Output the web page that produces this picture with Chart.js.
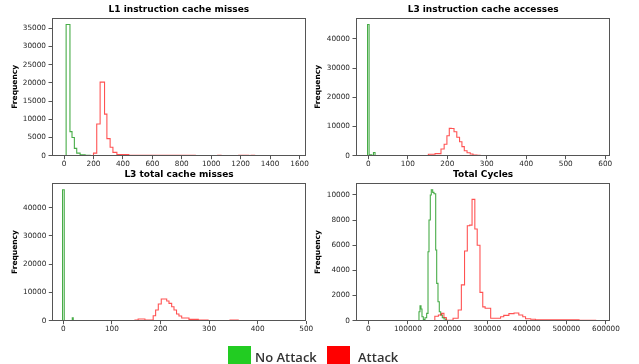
<!DOCTYPE html>
<html><head><meta charset="utf-8">
<script src="https://cdn.jsdelivr.net/npm/chart.js@4.4.1/dist/chart.umd.min.js"></script>
<style>
html,body{margin:0;padding:0;background:#fff;width:639px;height:364px;overflow:hidden;}
canvas{position:absolute;left:0;top:0;}
.leg{position:absolute;font-family:"Open Sans",sans-serif;font-weight:600;font-size:13px;color:#333;line-height:18px;white-space:nowrap;}
.box{position:absolute;}
</style></head><body>
<canvas id="c0" width="639" height="364"></canvas>
<canvas id="c1" width="639" height="364"></canvas>
<canvas id="c2" width="639" height="364"></canvas>
<canvas id="c3" width="639" height="364"></canvas>
<div class="box" style="left:228px;top:346px;width:23px;height:20px;background:#22cc22"></div>
<div class="leg" id="lg0" style="left:255px;top:348px;"></div>
<div class="box" style="left:327px;top:346px;width:23px;height:20px;background:#ff0000"></div>
<div class="leg" id="lg1" style="left:358px;top:348px;"></div>
<script>
// ---- text ----
const panelTitles = ["L1 instruction cache misses", "L3 instruction cache accesses", "L3 total cache misses", "Total Cycles"];
const yAxisLabel = "Frequency";
const seriesNames = ["No Attack", "Attack"];

// ---- L1 instruction cache misses (histogram bin edges / counts) ----
const l1NoAttackEdges = [14, 40, 54, 70, 86, 109, 143, 177];
const l1NoAttackCounts = [36000, 6600, 5000, 2000, 700, 250, 80];
const l1AttackEdges = [200, 222, 245, 275, 291, 313, 332, 359, 440, 653, 892, 1044, 1067, 1187, 1255, 1271, 1295];
const l1AttackCounts = [700, 8700, 20200, 11400, 4700, 2300, 900, 300, 80, 100, 0, 100, 0, 100, 0, 100];
const l1XTicks = [0, 200, 400, 600, 800, 1000, 1200, 1400, 1600];
const l1YTicks = [0, 5000, 10000, 15000, 20000, 25000, 30000, 35000];

// ---- L3 instruction cache accesses ----
const l3iNoAttackEdges = [-2, 2, 8, 13, 17];
const l3iNoAttackCounts = [44900, 300, 100, 1100];
const l3iAttackEdges = [152, 169, 184, 192, 199, 205, 210, 217, 224, 231, 237, 243, 250, 258, 265, 275, 283, 351, 359, 490];
const l3iAttackCounts = [500, 700, 2300, 3900, 6850, 9360, 9300, 8200, 6300, 4800, 3100, 1700, 1000, 560, 200, 100, 60, 0, 60];
const l3iXTicks = [0, 100, 200, 300, 400, 500, 600];
const l3iYTicks = [0, 10000, 20000, 30000, 40000];

// ---- L3 total cache misses ----
const l3tNoAttackEdges = [-1.5, 2, 18.5, 20.5];
const l3tNoAttackCounts = [46300, 0, 1000];
const l3tAttackEdges = [147.5, 154, 168, 185, 190, 195.5, 201.6, 212.8, 217.5, 223, 227.8, 233, 238, 243.6, 258.6, 277.8, 298, 343, 360, 480];
const l3tAttackCounts = [200, 600, 200, 1770, 3780, 5900, 7670, 6960, 6140, 4960, 3780, 2360, 1650, 960, 470, 200, 60, 200, 60];
const l3tXTicks = [0, 100, 200, 300, 400, 500];
const l3tYTicks = [0, 10000, 20000, 30000, 40000];

// ---- Total Cycles ----
const cyclesNoAttackEdges = [128000, 130600, 133100, 135600, 139000, 143200, 147400, 150800, 153300, 156600, 159100, 162600, 165900, 170200, 172700, 176000, 179300, 182800, 186900, 191200, 196200];
const cyclesNoAttackCounts = [716, 1190, 930, 320, 100, 240, 580, 5490, 8010, 10000, 10420, 10210, 10100, 5620, 2970, 1510, 716, 450, 240, 130];
const cyclesAttackEdges = [168000, 177000, 185000, 191000, 197000, 214000, 227000, 235000, 243000, 250000, 256000, 262000, 269000, 275000, 282000, 289000, 295000, 309000, 334000, 342000, 355000, 368000, 380000, 390000, 397000, 410000, 422000, 532000, 574000];
const cyclesAttackCounts = [350, 450, 580, 250, 40, 200, 850, 2850, 5550, 7550, 7600, 9650, 7300, 6000, 2250, 1100, 990, 190, 320, 420, 560, 610, 450, 320, 160, 120, 80, 40];
const cyclesXTicks = [0, 100000, 200000, 300000, 400000, 500000, 600000];
const cyclesYTicks = [0, 2000, 4000, 6000, 8000, 10000];

document.getElementById('lg0').textContent = seriesNames[0];
document.getElementById('lg1').textContent = seriesNames[1];

const GREEN = 'rgba(0,140,0,0.72)';
const RED = 'rgba(255,0,0,0.68)';
const FONT = 'DejaVu Sans';
const W = 639, H = 364;

function stepPoints(edges, counts) {
  const pts = [{x: edges[0], y: 0}];
  for (let i = 0; i < counts.length; i++) pts.push({x: edges[i], y: counts[i]});
  pts.push({x: edges[edges.length - 1], y: 0});
  return pts;
}

const panels = [
  {id: 'c0', title: panelTitles[0], area: {l: 52, t: 18, r: 305.7, b: 155.7}, ylabX: 15,
   xMin: -82, xMax: 1642, yMax: 37800, xTicks: l1XTicks, yTicks: l1YTicks,
   g: [l1NoAttackEdges, l1NoAttackCounts], r: [l1AttackEdges, l1AttackCounts]},
  {id: 'c1', title: panelTitles[1], area: {l: 356, t: 18, r: 610.3, b: 155.7}, ylabX: 318,
   xMin: -31.2, xMax: 612.7, yMax: 47150, xTicks: l3iXTicks, yTicks: l3iYTicks,
   g: [l3iNoAttackEdges, l3iNoAttackCounts], r: [l3iAttackEdges, l3iAttackCounts]},
  {id: 'c2', title: panelTitles[2], area: {l: 52.3, t: 183.3, r: 305.7, b: 320.7}, ylabX: 15,
   xMin: -22.6, xMax: 498.8, yMax: 48600, xTicks: l3tXTicks, yTicks: l3tYTicks,
   g: [l3tNoAttackEdges, l3tNoAttackCounts], r: [l3tAttackEdges, l3tAttackCounts]},
  {id: 'c3', title: panelTitles[3], area: {l: 356, t: 183.3, r: 610.3, b: 320.7}, ylabX: 318,
   xMin: -31000, xMax: 611000, yMax: 10930, xTicks: cyclesXTicks, yTicks: cyclesYTicks,
   g: [cyclesNoAttackEdges, cyclesNoAttackCounts], r: [cyclesAttackEdges, cyclesAttackCounts]}
];

const framePlugin = {
  id: 'frame',
  afterDatasetsDraw(chart) {
    const a = chart.chartArea, ctx = chart.ctx;
    ctx.save();
    ctx.strokeStyle = '#555';
    ctx.lineWidth = 1;
    const l = Math.round(a.left) + 0.5, t = Math.round(a.top) + 0.5;
    const r = Math.round(a.right) - 0.5, b = Math.round(a.bottom) - 0.5;
    ctx.strokeRect(l, t, r - l, b - t);
    ctx.restore();
  },
  afterDraw(chart, args, opts) {
    const a = chart.chartArea, ctx = chart.ctx;
    ctx.save();
    ctx.font = 'bold 9px "' + FONT + '"';
    ctx.fillStyle = '#000';
    ctx.textAlign = 'center';
    ctx.textBaseline = 'middle';
    ctx.fillText(opts.text, (a.left + a.right) / 2, a.top - 8.3);
    ctx.restore();
  }
};

const XH = 20, YT_HALF = 4.5;

panels.forEach(p => {
  const padLeft = p.ylabX - YT_HALF;
  const yW = p.area.l - padLeft;
  new Chart(document.getElementById(p.id), {
    type: 'line',
    data: {
      datasets: [
        {label: seriesNames[1], data: stepPoints(p.r[0], p.r[1]), borderColor: RED, borderWidth: 1.1,
         stepped: true, pointRadius: 0, fill: false, tension: 0},
        {label: seriesNames[0], data: stepPoints(p.g[0], p.g[1]), borderColor: GREEN, borderWidth: 1.1,
         stepped: true, pointRadius: 0, fill: false, tension: 0}
      ]
    },
    options: {
      responsive: false,
      animation: false,
      devicePixelRatio: 1,
      events: [],
      layout: {padding: {left: padLeft, top: p.area.t, right: W - p.area.r, bottom: H - p.area.b - XH}},
      plugins: {legend: {display: false}, tooltip: {enabled: false}, title: {display: false},
                frame: {text: p.title}},
      scales: {
        x: {
          type: 'linear', min: p.xMin, max: p.xMax,
          afterFit(s) { s.height = XH; },
          afterBuildTicks(s) { s.ticks = p.xTicks.map(v => ({value: v})); },
          border: {display: false},
          grid: {display: true, drawOnChartArea: false, drawTicks: true, tickLength: 3.5, color: '#555', lineWidth: 1},
          ticks: {autoSkip: false, maxRotation: 0, padding: 1, color: '#262626',
                  font: {family: FONT, size: 7.3}, callback: v => String(v)}
        },
        y: {
          type: 'linear', min: 0, max: p.yMax,
          afterFit(s) { s.width = yW; },
          afterBuildTicks(s) { s.ticks = p.yTicks.map(v => ({value: v})); },
          border: {display: false},
          grid: {display: true, drawOnChartArea: false, drawTicks: true, tickLength: 3.5, color: '#555', lineWidth: 1},
          ticks: {autoSkip: false, padding: 2.5, color: '#262626',
                  font: {family: FONT, size: 7.3}, callback: v => String(v)},
          title: {display: true, text: yAxisLabel, color: '#000', padding: 0,
                  font: {family: FONT, size: 7.5, weight: 'bold'}}
        }
      }
    },
    plugins: [framePlugin]
  });
});
</script>
</body></html>
